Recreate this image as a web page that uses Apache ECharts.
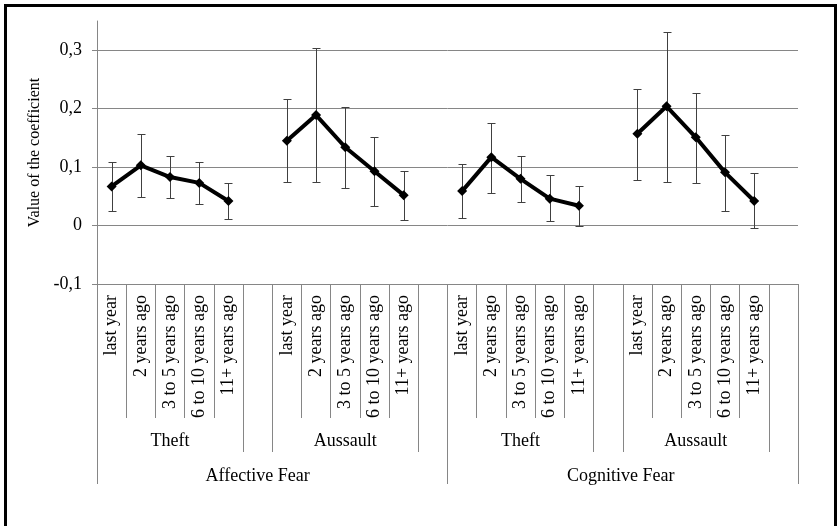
<!DOCTYPE html>
<html><head><meta charset="utf-8">
<script src="https://cdn.jsdelivr.net/npm/echarts@6/dist/echarts.min.js"></script>
<style>
html,body{margin:0;padding:0;background:#fff;overflow:hidden}
#c{position:absolute;left:0;top:0;width:839px;height:526px}
#frame{position:absolute;left:4px;top:4px;width:833px;height:600px;border:3px solid #000;box-sizing:border-box;pointer-events:none}
</style></head><body>
<div id="c"></div><div id="frame"></div>
<script>
const periods = ['last year', '2 years ago', '3 to 5 years ago', '6 to 10 years ago', '11+ years ago'];
const crimes = ['Theft', 'Aussault'];
const fears = ['Affective Fear', 'Cognitive Fear'];
const yTicks = [-0.1, 0, 0.1, 0.2, 0.3];

const affTheftVal  = [0.067, 0.103, 0.083, 0.073, 0.042];
const affTheftLow  = [0.025, 0.049, 0.047, 0.037, 0.011];
const affTheftHigh = [0.108, 0.157, 0.119, 0.109, 0.073];

const affAssaultVal  = [0.145, 0.189, 0.134, 0.093, 0.052];
const affAssaultLow  = [0.075, 0.075, 0.065, 0.034, 0.009];
const affAssaultHigh = [0.217, 0.303, 0.203, 0.152, 0.094];

const cogTheftVal  = [0.059, 0.117, 0.080, 0.046, 0.034];
const cogTheftLow  = [0.013, 0.056, 0.041, 0.007, 0.000];
const cogTheftHigh = [0.105, 0.175, 0.119, 0.087, 0.068];

const cogAssaultVal  = [0.157, 0.204, 0.151, 0.091, 0.042];
const cogAssaultLow  = [0.078, 0.075, 0.073, 0.025, -0.004];
const cogAssaultHigh = [0.234, 0.331, 0.227, 0.155, 0.090];

const blocks = [
  [affTheftVal, affTheftLow, affTheftHigh],
  [affAssaultVal, affAssaultLow, affAssaultHigh],
  [cogTheftVal, cogTheftLow, cogTheftHigh],
  [cogAssaultVal, cogAssaultLow, cogAssaultHigh]
];

const cats = [], vals = [], bars = [], lvl2 = [], lvl1 = [], b2 = [], b1 = [];
fears.forEach((f, fi) => {
  const start = cats.length;
  b1.push(start);
  crimes.forEach((c, ci) => {
    const blk = blocks[fi * 2 + ci];
    b2.push(cats.length);
    periods.forEach((p, pi) => {
      const idx = cats.length;
      cats.push(p);
      vals.push(blk[0][pi]);
      bars.push([idx, blk[1][pi], blk[2][pi]]);
      lvl2.push(pi === 2 ? c : '');
      lvl1.push('');
    });
    b2.push(cats.length);
    cats.push(''); vals.push(null); lvl2.push(''); lvl1.push('');
  });
  lvl1[start + 5] = f;
});

const FONT = 'Liberation Serif';
const GRAY = '#868686';

const chart = echarts.init(document.getElementById('c'), null, {renderer: 'canvas'});
const baseX = {
  type: 'category', data: cats, gridIndex: 0, position: 'bottom', boundaryGap: true,
  splitLine: {show: false}
};
chart.setOption({
  animation: false,
  backgroundColor: '#fff',
  grid: {left: 97, right: 41, top: 21, bottom: 242, containLabel: false, outerBoundsMode: 'none'},
  xAxis: [
    Object.assign({}, baseX, {
      axisLine: {show: true, onZero: false, lineStyle: {color: GRAY, width: 1}},
      axisTick: {show: true, length: 134, interval: 0, lineStyle: {color: GRAY}},
      axisLabel: {interval: 0, rotate: 90, margin: 11, fontFamily: FONT, fontSize: 18, color: '#000'}
    }),
    Object.assign({}, baseX, {
      axisLine: {show: false, onZero: false},
      axisTick: {show: true, length: 168, interval: (i) => b2.indexOf(i) >= 0, lineStyle: {color: GRAY}},
      axisLabel: {interval: 0, margin: 148, fontFamily: FONT, fontSize: 18, color: '#000',
        formatter: (v, i) => lvl2[i]}
    }),
    Object.assign({}, baseX, {
      axisLine: {show: false, onZero: false},
      axisTick: {show: true, length: 200, interval: (i) => b1.indexOf(i) >= 0, lineStyle: {color: GRAY}},
      axisLabel: {interval: 0, margin: 183, fontFamily: FONT, fontSize: 18, color: '#000',
        formatter: (v, i) => lvl1[i] ? (i === 5 ? '{a|' + lvl1[i] + '}' : '{b|' + lvl1[i] + '}') : '',
        rich: {
          a: {fontFamily: FONT, fontSize: 18, color: '#000'},
          b: {fontFamily: FONT, fontSize: 18, color: '#000', padding: [0, 0, 0, 25]}
        }}
    })
  ],
  yAxis: {
    type: 'value', min: -0.1, max: 0.35, interval: 0.1,
    name: 'Value of the coefficient', nameLocation: 'middle', nameGap: 49, nameRotate: 90,
    nameTextStyle: {fontFamily: FONT, fontSize: 16, color: '#000'},
    axisLine: {show: true, lineStyle: {color: GRAY, width: 1}},
    axisTick: {show: true, length: 5, customValues: yTicks, lineStyle: {color: GRAY}},
    axisLabel: {customValues: yTicks, margin: 15, fontFamily: FONT, fontSize: 18, color: '#000',
      formatter: (v) => String(Math.round(v * 10) / 10).replace('.', ',')},
    splitLine: {show: true, lineStyle: {color: [GRAY, GRAY, GRAY, GRAY, GRAY, 'rgba(0,0,0,0)'], width: 1}}
  },
  series: [
    {
      type: 'custom', xAxisIndex: 0, yAxisIndex: 0, z: 2, data: bars,
      encode: {x: 0, y: [1, 2]},
      renderItem: (params, api) => {
        const i = api.value(0);
        const p1 = api.coord([i, api.value(1)]);
        const p2 = api.coord([i, api.value(2)]);
        const x = Math.round(p1[0]) + 0.5;
        const y1 = Math.round(p1[1]) + 0.5, y2 = Math.round(p2[1]) + 0.5;
        const st = {stroke: '#404040', lineWidth: 1};
        return {type: 'group', children: [
          {type: 'line', shape: {x1: x, y1: y1, x2: x, y2: y2}, style: st},
          {type: 'line', shape: {x1: x - 4, y1: y1, x2: x + 4, y2: y1}, style: st},
          {type: 'line', shape: {x1: x - 4, y1: y2, x2: x + 4, y2: y2}, style: st}
        ]};
      }
    },
    {
      type: 'line', xAxisIndex: 0, yAxisIndex: 0, z: 3, data: vals, connectNulls: false,
      symbol: 'diamond', symbolSize: 10, showSymbol: true,
      lineStyle: {color: '#000', width: 4},
      itemStyle: {color: '#000'}
    }
  ]
});
</script>
</body></html>
